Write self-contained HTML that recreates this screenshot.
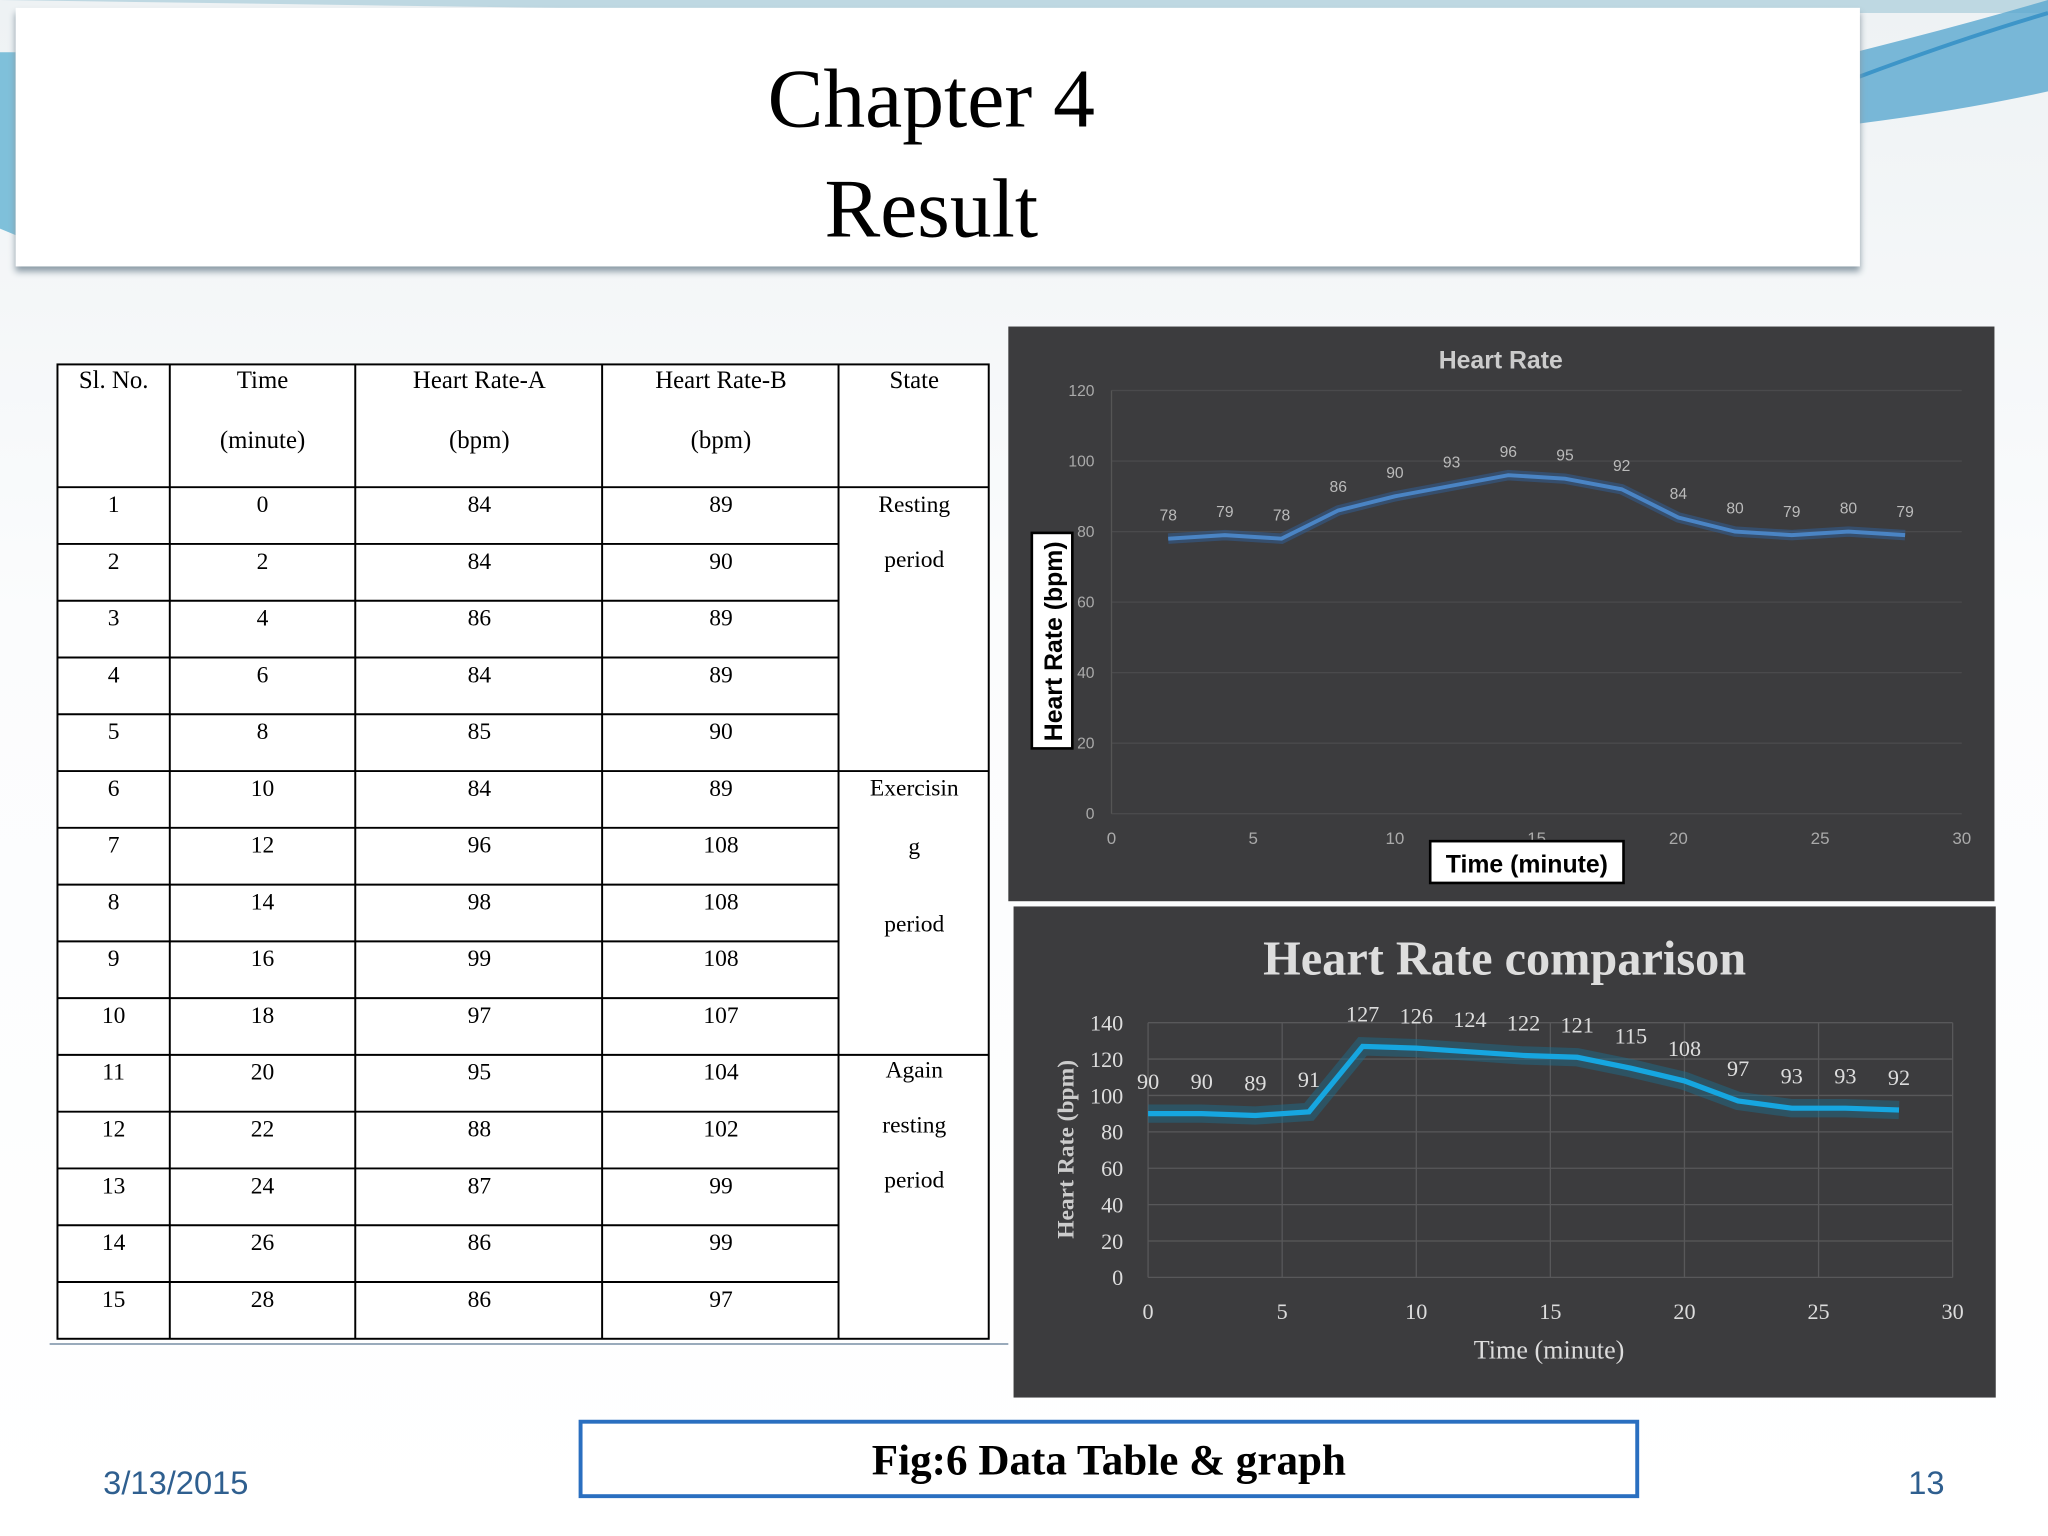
<!DOCTYPE html>
<html><head><meta charset="utf-8"><style>
html,body{margin:0;padding:0;width:2048px;height:1536px;overflow:hidden;background:#fff}
#s{position:absolute;left:0;top:0;width:1568px;height:1176px;transform:scale(1.306122);transform-origin:0 0;background:linear-gradient(#eef2f4,#fbfcfd 40%,#fff);font-family:"Liberation Serif",serif}
.abs{position:absolute}
</style></head><body>
<div id="s">
<svg class="abs" style="left:0;top:0" width="1568" height="1176">
<path d="M0 0 L1568 0 L1568 10 L700 10 Z" fill="#9fc6d6" opacity=".6"/>
<path d="M1420 40 Q1500 20 1568 0 L1568 70 Q1500 85 1420 95 Z" fill="#5aa8d0" opacity=".8"/>
<path d="M1420 60 Q1500 30 1568 10" stroke="#3d95c8" stroke-width="3" fill="none"/>
<path d="M0 40 L12 40 L12 180 L0 175 Z" fill="#7fc0da"/>
</svg>
<div class="abs" style="left:12px;top:6px;width:1412px;height:198px;background:#fff;box-shadow:0 4px 5px #8a9aa5;text-align:center;font-size:64px;line-height:84px;padding-top:28px;box-sizing:border-box;color:#000">
<div style="margin-left:-10px">Chapter 4</div><div style="margin-left:-10px">Result</div></div>

<svg class="abs" style="left:0;top:0" width="1568" height="1176" id="tbl"></svg>

<svg class="abs" style="left:0;top:0" width="1568" height="1176" id="c1"></svg>
<svg class="abs" style="left:0;top:0" width="1568" height="1176" id="c2"></svg>

<div class="abs" style="left:443px;top:1087px;width:812px;height:60px;border:3px solid #2a6fc0;box-sizing:border-box;background:#fff;text-align:center;font-weight:bold;font-size:33px;line-height:58px">Fig:6 Data Table &amp; graph</div>
<div class="abs" style="left:79px;top:1122px;font-family:'Liberation Sans',sans-serif;font-size:25px;color:#2f5f8f">3/13/2015</div>
<div class="abs" style="left:1461px;top:1122px;font-family:'Liberation Sans',sans-serif;font-size:25px;color:#2f5f8f">13</div>
</div>
<script>
const NS='http://www.w3.org/2000/svg';
function mk(p,t,a,txt){const e=document.createElementNS(NS,t);for(const k in a)e.setAttribute(k,a[k]);if(txt!==undefined)e.textContent=txt;p.appendChild(e);return e;}

// ---- table data
const slNo=[1,2,3,4,5,6,7,8,9,10,11,12,13,14,15];
const timeMin=[0,2,4,6,8,10,12,14,16,18,20,22,24,26,28];
const rateA=[84,84,86,84,85,84,96,98,99,97,95,88,87,86,86];
const rateB=[89,90,89,89,90,89,108,108,108,107,104,102,99,99,97];
// ---- chart 1
const c1X=[2,4,6,8,10,12,14,16,18,20,22,24,26,28];
const c1Y=[78,79,78,86,90,93,96,95,92,84,80,79,80,79];
const c1YTicks=[0,20,40,60,80,100,120];
const c1YLabels=['0','20','40','60','80','100','120'];
const c1XTicks=[0,5,10,15,20,25,30];
// ---- chart 2
const c2X=[0,2,4,6,8,10,12,14,16,18,20,22,24,26,28];
const c2Y=[90,90,89,91,127,126,124,122,121,115,108,97,93,93,92];
const c2YTicks=[0,20,40,60,80,100,120,140];
const c2XTicks=[0,5,10,15,20,25,30];

// table
const T=document.getElementById('tbl');
const cols=[44,130,272,461,642,757];const top0=279,hdrB=373,rowH=(1025-373)/15;
let e=mk(T,'rect',{x:44,y:279,width:713,height:746,fill:'#fff',stroke:'#000','stroke-width':1.5});

mk(T,'line',{x1:38,y1:1029,x2:772,y2:1029,stroke:'#9ab',"stroke-width":1.5});
cols.slice(1,5).forEach(x=>mk(T,'line',{x1:x,y1:279,x2:x,y2:1025,stroke:'#000','stroke-width':1.5}));
for(let i=0;i<15;i++){const y=hdrB+i*rowH;
 if(i===0||i===5||i===10) mk(T,'line',{x1:44,y1:y,x2:757,y2:y,stroke:'#000','stroke-width':1.5});
 else mk(T,'line',{x1:44,y1:y,x2:642,y2:y,stroke:'#000','stroke-width':1.5});}
const hdr=[['Sl. No.',''],['Time','(minute)'],['Heart Rate-A','(bpm)'],['Heart Rate-B','(bpm)'],['State','']];
const cx=[87,201,367,552,700];
hdr.forEach((h,i)=>{let t=mk(T,'text',{x:cx[i],y:297,'font-size':19,'text-anchor':'middle','font-family':'Liberation Serif'},h[0]);
 
 if(h[1])mk(T,'text',{x:cx[i],y:343,'font-size':19,'text-anchor':'middle','font-family':'Liberation Serif'},h[1]);});
for(let i=0;i<15;i++){const y=hdrB+i*rowH+19;
 [slNo[i],timeMin[i],rateA[i],rateB[i]].forEach((v,j)=>{let t=mk(T,'text',{x:cx[j],y:y,'font-size':18,'text-anchor':'middle','font-family':'Liberation Serif'},v);
 });}
[['Resting',392],['period',434],['Exercisin',609],['g',654],['period',713],['Again',825],['resting',867],['period',909]].forEach(s=>{
 let t=mk(T,'text',{x:700,y:s[1],'font-size':18,'text-anchor':'middle','font-family':'Liberation Serif'},s[0]);
 });

// chart 1
const A=document.getElementById('c1');
mk(A,'rect',{x:772,y:250,width:755,height:440,fill:'#3c3c3e'});
const x1=v=>851+v*(1502-851)/30, y1=v=>623-v*(623-299)/120;
c1YTicks.forEach((v,i)=>{mk(A,'line',{x1:851,y1:y1(v),x2:1502,y2:y1(v),stroke:'#4a4a4c'});
 let t=mk(A,'text',{x:838,y:y1(v)+4,'font-size':12,fill:'#aaa','text-anchor':'end','font-family':'Liberation Sans'},c1YLabels[i]);
 });
mk(A,'line',{x1:851,y1:299,x2:851,y2:623,stroke:'#555'});
c1XTicks.forEach(v=>{let t=mk(A,'text',{x:x1(v),y:646,'font-size':13,fill:'#aaa','text-anchor':'middle','font-family':'Liberation Sans'},v);
 });
e=mk(A,'text',{x:1149,y:282,'font-size':19,'font-weight':'bold',fill:'#ccc','text-anchor':'middle','font-family':'Liberation Sans'},'Heart Rate');

let pts=c1X.map((x,i)=>x1(x)+','+y1(c1Y[i])).join(' ');
mk(A,'polyline',{points:pts,fill:'none',stroke:'#2f5f9a','stroke-width':8,opacity:.5});
e=mk(A,'polyline',{points:pts,fill:'none',stroke:'#4a84c4','stroke-width':3});

c1X.forEach((x,i)=>{let t=mk(A,'text',{x:x1(x),y:y1(c1Y[i])-14,'font-size':12,fill:'#bbb','text-anchor':'middle','font-family':'Liberation Sans'},c1Y[i]);
 });
mk(A,'rect',{x:790,y:408,width:31,height:165,fill:'#fff',stroke:'#000','stroke-width':2});
e=mk(A,'text',{x:0,y:0,'font-size':19,'font-weight':'bold',fill:'#000','text-anchor':'middle','font-family':'Liberation Sans',transform:'translate(813,491) rotate(-90)'},'Heart Rate (bpm)');

mk(A,'rect',{x:1095,y:644,width:148,height:32,fill:'#fff',stroke:'#000','stroke-width':2});
e=mk(A,'text',{x:1169,y:668,'font-size':19,'font-weight':'bold',fill:'#000','text-anchor':'middle','font-family':'Liberation Sans'},'Time (minute)');


// chart 2
const B=document.getElementById('c2');
mk(B,'rect',{x:776,y:694,width:752,height:376,fill:'#3c3c3e'});
const x2=v=>879+v*(1495-879)/30, y2=v=>978-v*(978-783)/140;
c2YTicks.forEach(v=>{mk(B,'line',{x1:879,y1:y2(v),x2:1495,y2:y2(v),stroke:'#58585a'});
 let t=mk(B,'text',{x:860,y:y2(v)+6,'font-size':17,fill:'#ddd','text-anchor':'end','font-family':'Liberation Serif'},v);
 });
c2XTicks.forEach(v=>{mk(B,'line',{x1:x2(v),y1:783,x2:x2(v),y2:978,stroke:'#58585a'});
 let t=mk(B,'text',{x:x2(v),y:1010,'font-size':17,fill:'#ddd','text-anchor':'middle','font-family':'Liberation Serif'},v);
 });
e=mk(B,'text',{x:1152,y:746,'font-size':37,'font-weight':'bold',fill:'#ddd','text-anchor':'middle','font-family':'Liberation Serif'},'Heart Rate comparison');

pts=c2X.map((x,i)=>x2(x)+','+y2(c2Y[i])).join(' ');
mk(B,'polyline',{points:pts,fill:'none',stroke:'#1a6f90','stroke-width':14,opacity:.45});
e=mk(B,'polyline',{points:pts,fill:'none',stroke:'#16a6e0','stroke-width':4});

c2X.forEach((x,i)=>{let t=mk(B,'text',{x:x2(x),y:y2(c2Y[i])-19,'font-size':17,fill:'#ddd','text-anchor':'middle','font-family':'Liberation Serif'},c2Y[i]);
 });
e=mk(B,'text',{x:0,y:0,'font-size':18,'font-weight':'bold',fill:'#ccc','text-anchor':'middle','font-family':'Liberation Serif',transform:'translate(822,880) rotate(-90)'},'Heart Rate (bpm)');

e=mk(B,'text',{x:1186,y:1040,'font-size':20,fill:'#ddd','text-anchor':'middle','font-family':'Liberation Serif'},'Time (minute)');

</script>
</body></html>
